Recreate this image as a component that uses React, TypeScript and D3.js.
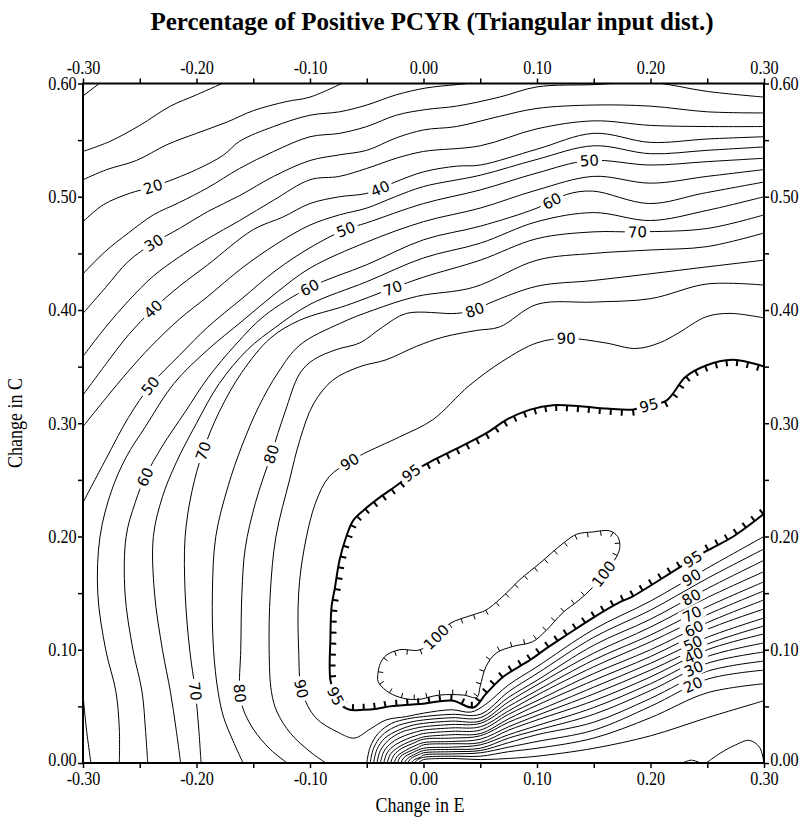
import React, { useEffect, useRef } from 'react';
import * as d3 from 'd3';

type Pt = [number, number];

// axis ticks (Change in E / Change in C)
const eSteps = [-0.3, -0.25, -0.2, -0.15, -0.1, -0.05, 0, 0.05, 0.1, 0.15, 0.2, 0.25, 0.3];
const cSteps = [0, 0.05, 0.1, 0.15, 0.2, 0.25, 0.3, 0.35, 0.4, 0.45, 0.5, 0.55, 0.6];

// contour lines, [E, C]
const upper05: Pt[] = [[-0.3, 0.589], [-0.283, 0.602]];
const upper10: Pt[] = [[-0.3, 0.54], [-0.276, 0.549], [-0.25, 0.563], [-0.223, 0.58], [-0.2, 0.59], [-0.173, 0.602]];
const upper15: Pt[] = [[-0.3, 0.515], [-0.279, 0.524], [-0.253, 0.532], [-0.226, 0.546], [-0.2, 0.556], [-0.173, 0.566], [-0.15, 0.576], [-0.121, 0.584], [-0.1, 0.588], [-0.068, 0.602]];
const upper20: Pt[] = [[-0.3, 0.478], [-0.282, 0.493], [-0.259, 0.503], [-0.238, 0.509], [-0.2, 0.524], [-0.176, 0.537], [-0.162, 0.549], [-0.132, 0.562], [-0.1, 0.572], [-0.074, 0.575], [-0.05, 0.581], [-0.024, 0.59], [0.002, 0.596], [0.029, 0.599], [0.06, 0.602]];
const upper25: Pt[] = [[-0.3, 0.432], [-0.28, 0.452], [-0.26, 0.468], [-0.238, 0.484], [-0.215, 0.495], [-0.19, 0.508], [-0.162, 0.525], [-0.132, 0.54], [-0.1, 0.553], [-0.074, 0.556], [-0.05, 0.562], [-0.024, 0.572], [0.002, 0.577], [0.029, 0.58], [0.067, 0.588], [0.1, 0.597], [0.15, 0.599], [0.2, 0.601], [0.25, 0.593], [0.3, 0.588]];
const upper30: Pt[] = [[-0.3, 0.397], [-0.28, 0.42], [-0.26, 0.443], [-0.238, 0.459], [-0.215, 0.472], [-0.19, 0.487], [-0.162, 0.501], [-0.132, 0.518], [-0.1, 0.532], [-0.074, 0.537], [-0.05, 0.541], [-0.024, 0.552], [0, 0.559], [0.029, 0.562], [0.067, 0.571], [0.1, 0.578], [0.15, 0.581], [0.2, 0.58], [0.25, 0.575], [0.3, 0.574]];
const upper35: Pt[] = [[-0.3, 0.359], [-0.28, 0.385], [-0.26, 0.408], [-0.238, 0.43], [-0.215, 0.447], [-0.19, 0.463], [-0.162, 0.479], [-0.132, 0.497], [-0.1, 0.515], [-0.074, 0.518], [-0.05, 0.525], [-0.024, 0.534], [0, 0.54], [0.05, 0.545], [0.1, 0.56], [0.15, 0.567], [0.2, 0.563], [0.25, 0.562], [0.3, 0.562]];
const upper40: Pt[] = [[-0.3, 0.325], [-0.28, 0.352], [-0.26, 0.378], [-0.238, 0.401], [-0.215, 0.421], [-0.19, 0.44], [-0.15, 0.471], [-0.124, 0.482], [-0.1, 0.494], [-0.074, 0.5], [-0.05, 0.503], [-0.025, 0.513], [0, 0.522], [0.029, 0.527], [0.05, 0.528], [0.1, 0.542], [0.15, 0.556], [0.2, 0.548], [0.25, 0.551], [0.3, 0.553]];
const upper45: Pt[] = [[-0.3, 0.297], [-0.28, 0.322], [-0.26, 0.346], [-0.24, 0.368], [-0.215, 0.392], [-0.19, 0.412], [-0.16, 0.437], [-0.13, 0.458], [-0.1, 0.475], [-0.074, 0.484], [-0.05, 0.49], [-0.025, 0.5], [0, 0.509], [0.05, 0.519], [0.1, 0.533], [0.15, 0.545], [0.2, 0.538], [0.25, 0.541], [0.3, 0.544]];
const upper50: Pt[] = [[-0.3, 0.23], [-0.28, 0.268], [-0.26, 0.305], [-0.24, 0.334], [-0.215, 0.36], [-0.19, 0.385], [-0.16, 0.41], [-0.13, 0.435], [-0.1, 0.455], [-0.069, 0.471], [-0.05, 0.477], [0, 0.494], [0.05, 0.506], [0.1, 0.521], [0.146, 0.532], [0.2, 0.528], [0.25, 0.531], [0.3, 0.534]];
const corner50: Pt[] = [[-0.3, 0.06], [-0.297, 0.03], [-0.293, 0]];
const upper55: Pt[] = [[-0.268, 0], [-0.268, 0.03], [-0.271, 0.063], [-0.28, 0.1], [-0.287, 0.15], [-0.285, 0.2], [-0.275, 0.24], [-0.262, 0.27], [-0.245, 0.297], [-0.22, 0.335], [-0.19, 0.365], [-0.16, 0.39], [-0.13, 0.415], [-0.1, 0.437], [-0.05, 0.46], [0, 0.478], [0.05, 0.49], [0.1, 0.506], [0.15, 0.518], [0.2, 0.512], [0.25, 0.518], [0.3, 0.524]];
const upper60: Pt[] = [[-0.243, 0], [-0.245, 0.03], [-0.248, 0.063], [-0.256, 0.1], [-0.263, 0.15], [-0.262, 0.2], [-0.254, 0.23], [-0.245, 0.253], [-0.23, 0.28], [-0.21, 0.31], [-0.19, 0.34], [-0.165, 0.37], [-0.14, 0.395], [-0.1, 0.42], [-0.05, 0.44], [0, 0.462], [0.05, 0.474], [0.1, 0.49], [0.126, 0.502], [0.149, 0.505], [0.199, 0.494], [0.246, 0.503], [0.3, 0.513]];
const upper65: Pt[] = [[-0.214, 0], [-0.218, 0.03], [-0.223, 0.063], [-0.23, 0.1], [-0.237, 0.15], [-0.238, 0.2], [-0.23, 0.235], [-0.218, 0.265], [-0.2, 0.3], [-0.18, 0.335], [-0.155, 0.365], [-0.13, 0.385], [-0.1, 0.405], [-0.05, 0.425], [0, 0.446], [0.05, 0.459], [0.1, 0.478], [0.15, 0.486], [0.2, 0.479], [0.25, 0.488], [0.3, 0.5]];
const upper70: Pt[] = [[-0.196, 0], [-0.198, 0.03], [-0.201, 0.063], [-0.206, 0.1], [-0.21, 0.15], [-0.21, 0.2], [-0.204, 0.24], [-0.194, 0.276], [-0.18, 0.31], [-0.16, 0.345], [-0.135, 0.375], [-0.109, 0.391], [-0.068, 0.404], [-0.028, 0.419], [0, 0.429], [0.05, 0.444], [0.1, 0.463], [0.15, 0.469], [0.189, 0.469], [0.25, 0.472], [0.3, 0.484]];
const upper75: Pt[] = [[-0.159, 0], [-0.168, 0.02], [-0.176, 0.04], [-0.181, 0.063], [-0.185, 0.1], [-0.186, 0.15], [-0.183, 0.2], [-0.172, 0.245], [-0.16, 0.28], [-0.145, 0.315], [-0.128, 0.345], [-0.109, 0.369], [-0.074, 0.388], [-0.044, 0.4], [-0.006, 0.412], [0.044, 0.42], [0.1, 0.444], [0.15, 0.45], [0.2, 0.453], [0.25, 0.456], [0.3, 0.468]];
const upper80: Pt[] = [[-0.12, 0], [-0.135, 0.012], [-0.15, 0.03], [-0.159, 0.048], [-0.162, 0.063], [-0.161, 0.1], [-0.16, 0.15], [-0.157, 0.19], [-0.148, 0.23], [-0.134, 0.273], [-0.122, 0.31], [-0.109, 0.344], [-0.097, 0.356], [-0.077, 0.365], [-0.056, 0.371], [-0.036, 0.385], [-0.015, 0.397], [0.029, 0.397], [0.045, 0.4], [0.058, 0.406], [0.1, 0.421], [0.149, 0.426], [0.2, 0.432], [0.249, 0.438], [0.3, 0.444]];
const upper85: Pt[] = [[-0.086, 0], [-0.1, 0.01], [-0.117, 0.026], [-0.129, 0.045], [-0.134, 0.063], [-0.136, 0.1], [-0.135, 0.15], [-0.13, 0.2], [-0.118, 0.25], [-0.109, 0.285], [-0.097, 0.317], [-0.08, 0.338], [-0.056, 0.35], [-0.033, 0.356], [-0.006, 0.368], [0.017, 0.376], [0.047, 0.382], [0.067, 0.385], [0.1, 0.405], [0.15, 0.407], [0.2, 0.41], [0.25, 0.423], [0.3, 0.422]];
const line90: Pt[] = [[0.3, 0.393], [0.27, 0.397], [0.249, 0.394], [0.225, 0.38], [0.208, 0.371], [0.187, 0.366], [0.16, 0.371], [0.126, 0.375], [0.1, 0.371], [0.07, 0.355], [0.04, 0.333], [0.008, 0.303], [-0.021, 0.288], [-0.053, 0.273], [-0.065, 0.266], [-0.083, 0.253], [-0.095, 0.23], [-0.105, 0.19], [-0.11, 0.15], [-0.11, 0.1], [-0.107, 0.063], [-0.095, 0.04], [-0.075, 0.027], [-0.061, 0.022], [-0.047, 0.03], [-0.033, 0.038], [-0.015, 0.041], [0, 0.044], [0.025, 0.047], [0.042, 0.045], [0.055, 0.052], [0.075, 0.069], [0.1, 0.085], [0.15, 0.118], [0.2, 0.143], [0.25, 0.172], [0.3, 0.2]];
const line95: Pt[] = [[0.3, 0.35], [0.29, 0.353], [0.272, 0.356], [0.249, 0.351], [0.231, 0.341], [0.214, 0.32], [0.199, 0.316], [0.184, 0.312], [0.161, 0.313], [0.138, 0.315], [0.114, 0.316], [0.094, 0.312], [0.073, 0.303], [0.055, 0.291], [0.026, 0.276], [0.006, 0.266], [-0.011, 0.256], [-0.021, 0.247], [-0.038, 0.235], [-0.053, 0.223], [-0.062, 0.214], [-0.068, 0.2], [-0.074, 0.179], [-0.078, 0.155], [-0.081, 0.138], [-0.082, 0.111], [-0.082, 0.073], [-0.077, 0.058], [-0.071, 0.05], [-0.065, 0.047], [-0.053, 0.047], [-0.041, 0.048], [-0.03, 0.05], [-0.018, 0.051], [-0.003, 0.052], [0.011, 0.054], [0.026, 0.055], [0.044, 0.049], [0.055, 0.061], [0.07, 0.076], [0.094, 0.091], [0.108, 0.101], [0.126, 0.113], [0.149, 0.128], [0.173, 0.142], [0.184, 0.147], [0.226, 0.173], [0.249, 0.187], [0.273, 0.2], [0.3, 0.22]];
const loop100: Pt[] = [[-0.04, 0.08], [-0.038, 0.088], [-0.033, 0.095], [-0.021, 0.1], [-0.003, 0.1], [0.011, 0.111], [0.023, 0.123], [0.044, 0.131], [0.055, 0.135], [0.073, 0.15], [0.085, 0.162], [0.102, 0.176], [0.123, 0.194], [0.135, 0.202], [0.149, 0.204], [0.164, 0.205], [0.171, 0.2], [0.173, 0.191], [0.17, 0.182], [0.161, 0.17], [0.149, 0.155], [0.136, 0.143], [0.123, 0.133], [0.108, 0.117], [0.096, 0.107], [0.079, 0.103], [0.064, 0.097], [0.055, 0.085], [0.05, 0.068], [0.047, 0.058], [0.035, 0.06], [0.014, 0.06], [-0.006, 0.056], [-0.021, 0.058], [-0.033, 0.064], [-0.04, 0.072]];
const bump05: Pt[] = [[0.249, 0], [0.262, 0.009], [0.275, 0.016], [0.287, 0.02], [0.296, 0.014], [0.3, 0]];
const dip05: Pt[] = [[0.228, 0], [0.236, 0.0025], [0.244, 0]];

// lower fan: C of each level at the fanE columns
const fanE = [0, 0.025, 0.05, 0.075, 0.1, 0.15, 0.2, 0.25, 0.3];
const fan85 = [0.041, 0.043, 0.043, 0.063, 0.079, 0.111, 0.135, 0.163, 0.189];
const fan80 = [0.038, 0.04, 0.04, 0.058, 0.073, 0.104, 0.127, 0.154, 0.179];
const fan75 = [0.035, 0.037, 0.037, 0.054, 0.069, 0.097, 0.12, 0.146, 0.169];
const fan70 = [0.032, 0.034, 0.035, 0.05, 0.064, 0.091, 0.113, 0.138, 0.16];
const fan65 = [0.029, 0.031, 0.032, 0.046, 0.06, 0.085, 0.107, 0.131, 0.152];
const fan60 = [0.026, 0.028, 0.029, 0.043, 0.055, 0.079, 0.1, 0.124, 0.144];
const fan55 = [0.023, 0.025, 0.026, 0.039, 0.051, 0.073, 0.094, 0.118, 0.136];
const fan50 = [0.021, 0.022, 0.024, 0.036, 0.046, 0.067, 0.088, 0.111, 0.128];
const fan45 = [0.018, 0.019, 0.021, 0.032, 0.042, 0.061, 0.082, 0.105, 0.121];
const fan40 = [0.016, 0.017, 0.018, 0.029, 0.038, 0.055, 0.076, 0.1, 0.114];
const fan35 = [0.013, 0.014, 0.016, 0.025, 0.033, 0.049, 0.07, 0.094, 0.106];
const fan30 = [0.011, 0.012, 0.013, 0.022, 0.029, 0.043, 0.064, 0.088, 0.098];
const fan25 = [0.009, 0.01, 0.011, 0.018, 0.025, 0.036, 0.057, 0.081, 0.09];
const fan20 = [0.007, 0.008, 0.009, 0.014, 0.019, 0.029, 0.05, 0.074, 0.082];
const fan15 = [0.005, 0.006, 0.006, 0.01, 0.013, 0.022, 0.04, 0.062, 0.07];
const fan10 = [0.003, 0.004, 0.003, 0.004, 0.006, 0.013, 0.024, 0.04, 0.055];

// arcs where the fan lines leave the bottom axis
const arc85: Pt[] = [[-0.05, 0], [-0.047, 0.014], [-0.04, 0.026], [-0.028, 0.035], [-0.014, 0.039]];
const arc80: Pt[] = [[-0.047, 0], [-0.044, 0.013], [-0.037, 0.024], [-0.025, 0.032], [-0.012, 0.036]];
const arc75: Pt[] = [[-0.044, 0], [-0.041, 0.012], [-0.034, 0.022], [-0.022, 0.029], [-0.011, 0.033]];
const arc70: Pt[] = [[-0.041, 0], [-0.038, 0.011], [-0.031, 0.02], [-0.02, 0.027], [-0.01, 0.03]];
const arc65: Pt[] = [[-0.038, 0], [-0.035, 0.01], [-0.028, 0.018], [-0.017, 0.024], [-0.008, 0.027]];
const arc60: Pt[] = [[-0.035, 0], [-0.032, 0.009], [-0.025, 0.016], [-0.015, 0.021], [-0.007, 0.024]];
const arc55: Pt[] = [[-0.032, 0], [-0.029, 0.008], [-0.022, 0.014], [-0.012, 0.019], [-0.006, 0.021]];
const arc50: Pt[] = [[-0.029, 0], [-0.026, 0.007], [-0.019, 0.013], [-0.01, 0.017]];
const arc45: Pt[] = [[-0.026, 0], [-0.023, 0.006], [-0.016, 0.011], [-0.008, 0.015]];
const arc40: Pt[] = [[-0.023, 0], [-0.02, 0.006], [-0.013, 0.01], [-0.006, 0.013]];
const arc35: Pt[] = [[-0.02, 0], [-0.017, 0.005], [-0.01, 0.009]];
const arc30: Pt[] = [[-0.017, 0], [-0.014, 0.004], [-0.007, 0.008]];
const arc25: Pt[] = [[-0.014, 0], [-0.011, 0.004], [-0.005, 0.007]];
const arc20: Pt[] = [[-0.011, 0], [-0.008, 0.003], [-0.003, 0.005]];
const arc15: Pt[] = [[-0.008, 0], [-0.005, 0.003]];
const arc10: Pt[] = [[-0.005, 0], [-0.002, 0.002]];

// contour labels: [level, E, C]
const contourLabels: [number, number, number][] = [
  [20, -0.238, 0.509], [30, -0.238, 0.459], [40, -0.239, 0.401], [50, -0.241, 0.334], [60, -0.245, 0.253],
  [70, -0.194, 0.276], [80, -0.134, 0.273], [90, -0.065, 0.266], [95, -0.011, 0.256],
  [60, -0.1, 0.42], [70, -0.027, 0.418], [80, 0.045, 0.4], [90, 0.126, 0.375], [95, 0.199, 0.316],
  [40, -0.038, 0.507], [50, -0.069, 0.471], [50, 0.146, 0.532], [60, 0.113, 0.496], [70, 0.189, 0.469],
  [70, -0.201, 0.063], [80, -0.162, 0.061], [90, -0.107, 0.066], [95, -0.077, 0.06],
  [100, 0.011, 0.111], [100, 0.16, 0.166],
  [95, 0.237, 0.179], [90, 0.237, 0.163], [80, 0.237, 0.144], [70, 0.237, 0.13], [60, 0.237, 0.12],
  [50, 0.237, 0.107], [40, 0.237, 0.097], [30, 0.237, 0.085], [20, 0.237, 0.07],
];

const fanLine = (lead: Pt[], cs: number[]): Pt[] => lead.concat(fanE.map((e, i) => [e, cs[i]] as Pt));

interface Hachure { side: number; spacing: number; len: number; width: number; }
interface Contour { level: number; pts: Pt[]; closed?: boolean; width?: number; hachure?: Hachure; }

const contours: Contour[] = [
  { level: 5, pts: upper05 }, { level: 10, pts: upper10 }, { level: 15, pts: upper15 },
  { level: 20, pts: upper20 }, { level: 25, pts: upper25 }, { level: 30, pts: upper30 },
  { level: 35, pts: upper35 }, { level: 40, pts: upper40 }, { level: 45, pts: upper45 },
  { level: 50, pts: upper50 }, { level: 50, pts: corner50 }, { level: 55, pts: upper55 },
  { level: 60, pts: upper60 }, { level: 65, pts: upper65 }, { level: 70, pts: upper70 },
  { level: 75, pts: upper75 }, { level: 80, pts: upper80 }, { level: 85, pts: upper85 },
  { level: 90, pts: line90 },
  { level: 85, pts: fanLine(arc85, fan85) }, { level: 80, pts: fanLine(arc80, fan80) },
  { level: 75, pts: fanLine(arc75, fan75) }, { level: 70, pts: fanLine(arc70, fan70) },
  { level: 65, pts: fanLine(arc65, fan65) }, { level: 60, pts: fanLine(arc60, fan60) },
  { level: 55, pts: fanLine(arc55, fan55) }, { level: 50, pts: fanLine(arc50, fan50) },
  { level: 45, pts: fanLine(arc45, fan45) }, { level: 40, pts: fanLine(arc40, fan40) },
  { level: 35, pts: fanLine(arc35, fan35) }, { level: 30, pts: fanLine(arc30, fan30) },
  { level: 25, pts: fanLine(arc25, fan25) }, { level: 20, pts: fanLine(arc20, fan20) },
  { level: 15, pts: fanLine(arc15, fan15) }, { level: 10, pts: fanLine(arc10, fan10) },
  { level: 5, pts: bump05 }, { level: 5, pts: dip05 },
  { level: 95, pts: line95, width: 2, hachure: { side: 1, spacing: 11, len: 6, width: 2 } },
  { level: 100, pts: loop100, closed: true, hachure: { side: -1, spacing: 13, len: 5, width: 1 } },
];

const W = 808, H = 820;
const SERIF = 'Liberation Serif, Times New Roman, serif';
const fmt = (v: number) => (Math.abs(v) < 1e-9 ? 0 : v).toFixed(2);
const isMajor = (v: number) => Math.abs(v * 10 - Math.round(v * 10)) < 1e-9;

function drawChart(el: SVGSVGElement) {
  const svg = d3.select(el);
  svg.selectAll('*').remove();

  const x = d3.scaleLinear().domain([-0.3, 0.3]).range([83, 764]);
  const y = d3.scaleLinear().domain([0, 0.6]).range([763, 83.5]);

  const defs = svg.append('defs');
  defs.append('clipPath').attr('id', 'plotclip').append('rect')
    .attr('x', 83).attr('y', 83.5).attr('width', 681).attr('height', 679.5);
  const mask = defs.append('mask').attr('id', 'lblmask').attr('maskUnits', 'userSpaceOnUse')
    .attr('x', 0).attr('y', 0).attr('width', W).attr('height', H);
  mask.append('rect').attr('width', W).attr('height', H).attr('fill', 'white');

  const plot = svg.append('g').attr('clip-path', 'url(#plotclip)');
  const lines = plot.append('g').attr('mask', 'url(#lblmask)');

  const open = d3.line<Pt>().x(d => x(d[0])).y(d => y(d[1])).curve(d3.curveCatmullRom.alpha(0.5));
  const closed = d3.line<Pt>().x(d => x(d[0])).y(d => y(d[1])).curve(d3.curveCatmullRomClosed.alpha(0.5));

  const drawn = contours.map(c => {
    const p = lines.append('path')
      .attr('d', (c.closed ? closed : open)(c.pts))
      .attr('fill', 'none').attr('stroke', '#000')
      .attr('stroke-width', c.width || 1).attr('stroke-linejoin', 'round');
    return { c, node: p.node() as SVGPathElement };
  });

  // hachures point into the higher region
  drawn.filter(d => d.c.hachure).forEach(({ c, node }) => {
    const h = c.hachure as Hachure;
    const len = node.getTotalLength();
    for (let s = h.spacing / 2; s < len; s += h.spacing) {
      const a = node.getPointAtLength(Math.max(0, s - 1));
      const b = node.getPointAtLength(Math.min(len, s + 1));
      const q = node.getPointAtLength(s);
      let tx = b.x - a.x, ty = b.y - a.y;
      const n = Math.hypot(tx, ty) || 1;
      tx /= n; ty /= n;
      lines.append('line')
        .attr('x1', q.x).attr('y1', q.y)
        .attr('x2', q.x + h.side * ty * h.len).attr('y2', q.y - h.side * tx * h.len)
        .attr('stroke', '#000').attr('stroke-width', h.width);
    }
  });

  // labels sit on the nearest point of their line, the line is cut under them
  const lbl = svg.append('g');
  contourLabels.forEach(([lvl, e, c]) => {
    const px = x(e), py = y(c);
    let best: { d: number; s: number; node: SVGPathElement; q: DOMPoint } | null = null;
    drawn.filter(d => d.c.level === lvl).forEach(({ node }) => {
      const len = node.getTotalLength();
      for (let s = 0; s <= len; s += 1.5) {
        const q = node.getPointAtLength(s);
        const dd = (q.x - px) ** 2 + (q.y - py) ** 2;
        if (!best || dd < best.d) best = { d: dd, s, node, q };
      }
    });
    if (!best) return;
    const bb = best as { d: number; s: number; node: SVGPathElement; q: DOMPoint };
    const len = bb.node.getTotalLength();
    const a = bb.node.getPointAtLength(Math.max(0, bb.s - 5));
    const b = bb.node.getPointAtLength(Math.min(len, bb.s + 5));
    let ang = Math.atan2(b.y - a.y, b.x - a.x) * 180 / Math.PI;
    if (ang > 90) ang -= 180;
    if (ang <= -90) ang += 180;
    const tr = `translate(${bb.q.x},${bb.q.y}) rotate(${ang})`;
    const t = lbl.append('text').attr('transform', tr)
      .attr('text-anchor', 'middle').attr('dy', '0.36em')
      .attr('font-family', 'DejaVu Sans, sans-serif').attr('font-size', 15)
      .text(String(lvl));
    const w = (t.node() as SVGTextElement).getBBox().width;
    mask.append('rect').attr('transform', tr)
      .attr('x', -w / 2 - 3).attr('y', -7.5).attr('width', w + 6).attr('height', 15).attr('fill', 'black');
  });

  // frame and axes
  svg.append('rect').attr('x', 83).attr('y', 83.5).attr('width', 681).attr('height', 679.5)
    .attr('fill', 'none').attr('stroke', '#000').attr('stroke-width', 2);

  const styleAxis = (g: d3.Selection<SVGGElement, unknown, null, undefined>) => {
    g.select('.domain').remove();
    g.selectAll('line').attr('stroke-width', 1.5);
    g.attr('font-family', SERIF).attr('font-size', 18);
    g.selectAll('text').attr('transform', 'scale(0.9,1)');
  };
  const fE = (d: d3.NumberValue) => (isMajor(+d) ? fmt(+d) : '');
  const liftZero = (g: d3.Selection<SVGGElement, unknown, null, undefined>) => {
    g.selectAll<SVGTextElement, number>('text').filter(d => Math.abs(d) < 1e-9).attr('dy', '0.12em');
  };
  svg.append('g').attr('transform', 'translate(0,763)')
    .call(d3.axisBottom(x).tickValues(eSteps).tickSize(5).tickPadding(4).tickFormat(fE)).call(styleAxis);
  svg.append('g').attr('transform', 'translate(0,83.5)')
    .call(d3.axisTop(x).tickValues(eSteps).tickSize(5).tickPadding(5).tickFormat(fE)).call(styleAxis);
  svg.append('g').attr('transform', 'translate(83,0)')
    .call(d3.axisLeft(y).tickValues(cSteps).tickSize(5).tickPadding(2).tickFormat(fE)).call(styleAxis).call(liftZero);
  svg.append('g').attr('transform', 'translate(764,0)')
    .call(d3.axisRight(y).tickValues(cSteps).tickSize(5).tickPadding(2).tickFormat(fE)).call(styleAxis).call(liftZero);

  svg.append('text').attr('x', 432).attr('y', 30).attr('text-anchor', 'middle')
    .attr('font-family', SERIF).attr('font-weight', 'bold').attr('font-size', 25)
    .text('Percentage of Positive PCYR (Triangular input dist.)');
  svg.append('text').attr('transform', 'translate(420,812) scale(0.9,1)').attr('text-anchor', 'middle')
    .attr('font-family', SERIF).attr('font-size', 20)
    .text('Change in E');
  svg.append('text').attr('transform', 'translate(22,423) rotate(-90) scale(0.9,1)').attr('text-anchor', 'middle')
    .attr('font-family', SERIF).attr('font-size', 20)
    .text('Change in C');
}

export default function App() {
  const ref = useRef<SVGSVGElement>(null);
  useEffect(() => {
    if (ref.current) drawChart(ref.current);
  }, []);
  return (
    <svg ref={ref} width={W} height={H}
      style={{ position: 'absolute', left: 0, top: 0, background: '#fff' }} />
  );
}
